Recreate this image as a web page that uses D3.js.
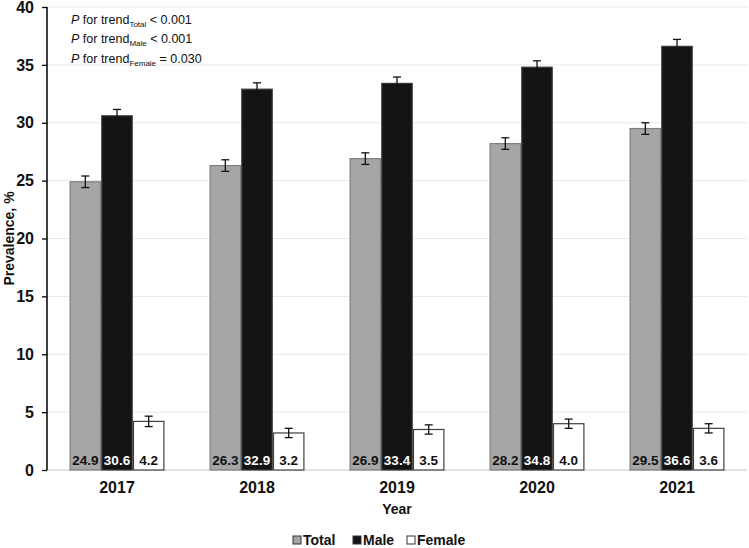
<!DOCTYPE html>
<html>
<head>
<meta charset="utf-8">
<script src="https://cdn.jsdelivr.net/npm/d3@7"></script>
<style>
  body { margin: 0; background: #fff; }
  svg { display: block; font-family: Arial, "Liberation Sans", sans-serif; }
</style>
</head>
<body>
<svg id="chart" width="749" height="548"></svg>
<script>
// chart data
var years = ["2017", "2018", "2019", "2020", "2021"];
var seriesNames = ["Total", "Male", "Female"];
var totalValues = [24.9, 26.3, 26.9, 28.2, 29.5];
var maleValues = [30.6, 32.9, 33.4, 34.8, 36.6];
var femaleValues = [4.2, 3.2, 3.5, 4.0, 3.6];
var totalErr = [0.5, 0.5, 0.5, 0.5, 0.5];
var maleErr = [0.55, 0.55, 0.55, 0.55, 0.6];
var femaleErr = [0.45, 0.4, 0.4, 0.4, 0.4];
var yTicks = [0, 5, 10, 15, 20, 25, 30, 35, 40];
var trendNotes = [
  {sub: "Total", rest: " < 0.001"},
  {sub: "Male", rest: " < 0.001"},
  {sub: "Female", rest: " = 0.030"}
];

var style = {
  Total:  {fill: "#a6a6a6", stroke: "#7f7f7f", text: "#111"},
  Male:   {fill: "#141414", stroke: "#3a3a3a", text: "#fff"},
  Female: {fill: "#ffffff", stroke: "#404040", text: "#111"}
};

var values = {Total: totalValues, Male: maleValues, Female: femaleValues};
var errs = {Total: totalErr, Male: maleErr, Female: femaleErr};

var rows = [];
years.forEach(function(yr, i) {
  seriesNames.forEach(function(s) {
    rows.push({year: yr, series: s, value: values[s][i], err: errs[s][i]});
  });
});

var svg = d3.select("#chart");
var m = {left: 47, right: 2, top: 7, bottom: 78};
var W = 749, H = 548;

var x = d3.scaleBand().domain(years).range([m.left, W - m.right]).paddingInner(0.33).paddingOuter(0.165);
var xs = d3.scaleBand().domain(seriesNames).range([0, x.bandwidth()]).paddingInner(0.04);
var y = d3.scaleLinear().domain([0, 40]).range([H - m.bottom, m.top]);

// gridlines
svg.append("g")
  .selectAll("line")
  .data(yTicks.slice(1))
  .join("line")
  .attr("x1", m.left).attr("x2", W - m.right)
  .attr("y1", d => y(d)).attr("y2", d => y(d))
  .attr("stroke", "#e8e8e8").attr("stroke-width", 1);

// baseline
svg.append("line")
  .attr("x1", m.left).attr("x2", W - m.right)
  .attr("y1", y(0)).attr("y2", y(0))
  .attr("stroke", "#d9d9d9").attr("stroke-width", 1.5);

// bars
svg.append("g")
  .selectAll("rect")
  .data(rows)
  .join("rect")
  .attr("x", d => x(d.year) + xs(d.series))
  .attr("y", d => y(d.value))
  .attr("width", xs.bandwidth())
  .attr("height", d => y(0) - y(d.value))
  .attr("fill", d => style[d.series].fill)
  .attr("stroke", d => style[d.series].stroke)
  .attr("stroke-width", 1.2);

// error bars
var eb = svg.append("g").attr("stroke", "#111").attr("stroke-width", 1.3);
rows.forEach(function(d) {
  var cx = x(d.year) + xs(d.series) + xs.bandwidth() / 2;
  var y1 = y(d.value + d.err), y2 = y(d.value - d.err);
  eb.append("line").attr("x1", cx).attr("x2", cx).attr("y1", y1).attr("y2", y2);
  eb.append("line").attr("x1", cx - 4).attr("x2", cx + 4).attr("y1", y1).attr("y2", y1);
  eb.append("line").attr("x1", cx - 4).attr("x2", cx + 4).attr("y1", y2).attr("y2", y2);
});

// value labels inside bars
svg.append("g")
  .selectAll("text")
  .data(rows)
  .join("text")
  .attr("x", d => x(d.year) + xs(d.series) + xs.bandwidth() / 2)
  .attr("y", y(0) - 5)
  .attr("text-anchor", "middle")
  .attr("font-size", 13.5)
  .attr("font-weight", "bold")
  .attr("fill", d => style[d.series].text)
  .text(d => d.value.toFixed(1));

// y axis
var yAxis = svg.append("g")
  .attr("transform", "translate(" + m.left + ",0)")
  .call(d3.axisLeft(y).tickValues(yTicks).tickSize(5).tickPadding(8));
yAxis.select(".domain").attr("stroke", "#000").attr("stroke-width", 1.5).attr("d", "M0," + y(40) + "V" + y(0));
yAxis.selectAll(".tick line").attr("stroke", "#000").attr("stroke-width", 1.3);
yAxis.selectAll(".tick text")
  .attr("font-size", 16).attr("font-weight", "bold").attr("fill", "#111")
  .attr("font-family", "Arial, 'Liberation Sans', sans-serif");

// x axis labels
var xAxis = svg.append("g")
  .attr("transform", "translate(0," + y(0) + ")")
  .call(d3.axisBottom(x).tickSize(0).tickPadding(12));
xAxis.select(".domain").remove();
xAxis.selectAll(".tick text")
  .attr("font-size", 16).attr("font-weight", "bold").attr("fill", "#111")
  .attr("font-family", "Arial, 'Liberation Sans', sans-serif");

// axis titles
svg.append("text")
  .attr("x", (m.left + W - m.right) / 2).attr("y", 514)
  .attr("text-anchor", "middle")
  .attr("font-size", 14).attr("font-weight", "bold").attr("fill", "#111")
  .text("Year");

svg.append("text")
  .attr("transform", "translate(14," + y(20) + ") rotate(-90)")
  .attr("text-anchor", "middle")
  .attr("font-size", 14).attr("font-weight", "bold").attr("fill", "#111")
  .text("Prevalence, %");

// P for trend notes
var notes = svg.append("g").attr("font-size", 12.5).attr("fill", "#111");
trendNotes.forEach(function(n, i) {
  var t = notes.append("text").attr("x", 71).attr("y", 24 + i * 19.3);
  t.append("tspan").attr("font-style", "italic").text("P");
  t.append("tspan").text((i == 2 ? "  " : " ") + "for trend");
  t.append("tspan").attr("font-size", 8).attr("dy", 3).text(n.sub);
  t.append("tspan").attr("dy", -3).text(n.rest);
});

// legend
var legendX = [297, 357, 411];
var lg = svg.append("g");
seriesNames.forEach(function(s, i) {
  var g = lg.append("g").attr("transform", "translate(" + legendX[i] + ",540)");
  g.append("rect").attr("x", -4).attr("y", -4).attr("width", 8).attr("height", 8)
    .attr("fill", style[s].fill).attr("stroke", "#333").attr("stroke-width", 1);
  g.append("text").attr("x", 6).attr("y", 5)
    .attr("font-size", 14).attr("font-weight", "bold").attr("fill", "#111")
    .text(s);
});
</script>
</body>
</html>
